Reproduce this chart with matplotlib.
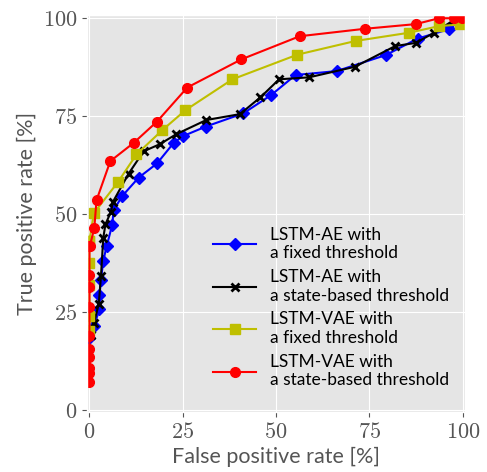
import numpy as np
import matplotlib
matplotlib.use('Agg')
import matplotlib.pyplot as plt

plt.style.use('ggplot')
plt.rcParams['mathtext.fontset'] = 'cm'
plt.rcParams['font.family'] = ['Lato', 'DejaVu Sans']

# Curvas ROC (FPR, TPR em %)
ae_fixo_fpr = [0, 1.2, 2.7, 2.7, 3.1, 3.7, 4.6, 6.1, 6.5, 8.8, 13.2, 18.1, 22.6, 25.1,
               31.1, 41.2, 48.7, 55.2, 66.2, 79.4, 87.9, 96.3, 100]
ae_fixo_tpr = [18.3, 21.3, 25.7, 29.2, 33.2, 38.0, 41.7, 47.2, 51.0, 54.6, 59.3, 62.9, 68.2, 69.9,
               72.3, 75.7, 80.4, 85.5, 86.5, 90.6, 94.8, 97.2, 100]

ae_estado_fpr = [0.3, 1.2, 2.5, 3.1, 3.7, 4.3, 5.8, 6.3, 10.5, 14.5, 18.8, 23.3, 31.3, 40.3,
                 45.8, 50.8, 58.8, 71.1, 81.9, 87.4, 92.3, 97.7, 100]
ae_estado_tpr = [19.0, 22.1, 27.0, 34.2, 43.8, 47.4, 50.6, 53.1, 60.3, 66.0, 67.8, 70.4, 74.0, 75.5,
                 79.8, 84.4, 84.9, 87.6, 92.9, 93.7, 96.3, 99.6, 100]

vae_fixo_fpr = [0, 0, 0, 0, 0, 0, 1.2, 7.6, 12.6, 19.5, 25.7, 38.3, 55.7, 71.3, 85.6, 93.7, 99.3, 100]
vae_fixo_tpr = [20.0, 24.0, 31.9, 37.4, 43.2, 43.2, 50.2, 58.1, 65.2, 71.4, 76.5, 84.4, 90.7, 94.2,
                96.3, 98.0, 98.4, 100]

vae_estado_fpr = [0, 0, 0, 0, 0, 0, 0, 0, 0, 0, 0.1, 1.3, 1.9, 5.6, 11.9, 18.1, 26.2, 40.7,
                  56.3, 73.7, 87.4, 93.6, 97.5, 99.7]
vae_estado_tpr = [7.1, 9.4, 10.6, 13.4, 15.5, 18.9, 26.2, 31.3, 34.4, 41.7, 41.8, 46.3, 53.5, 63.5,
                  68.2, 73.6, 82.3, 89.5, 95.4, 97.3, 98.5, 100, 100, 100]

fig = plt.figure(figsize=(4.87, 4.72), dpi=100)
ax = fig.add_axes([0.179, 0.127, 0.776, 0.841])

ax.plot(ae_fixo_fpr, ae_fixo_tpr, color='blue', marker='D', markersize=6.5, lw=1.5,
        label='LSTM-AE with\na fixed threshold')
ax.plot(ae_estado_fpr, ae_estado_tpr, color='black', marker='x', markersize=6, mew=2, lw=1.5,
        label='LSTM-AE with\na state-based threshold')
ax.plot(vae_fixo_fpr, vae_fixo_tpr, color='y', marker='s', markersize=7, lw=1.5,
        label='LSTM-VAE with\na fixed threshold')
ax.plot(vae_estado_fpr, vae_estado_tpr, color='red', marker='o', markersize=7, lw=1.5,
        label='LSTM-VAE with\na state-based threshold')

ax.set_xlim(-0.6, 100.6)
ax.set_ylim(-0.6, 100.8)
ticks = [0, 25, 50, 75, 100]
ax.set_xticks(ticks)
ax.set_yticks(ticks)
ax.set_xticklabels([f'${t}$' for t in ticks], fontsize=16)
ax.set_yticklabels([f'${t}$' for t in ticks], fontsize=16)
ax.tick_params(colors='#555555', labelcolor='#555555')

ax.set_xlabel('False positive rate [%]', fontsize=15.5, color='#555555')
ax.set_ylabel('True positive rate [%]', fontsize=15.5, color='#555555')

ax.legend(loc='lower right', bbox_to_anchor=(1.0, 0.02), frameon=False, fontsize=12.5,
          labelspacing=0.45, handlelength=2.5)

fig.savefig('out.png', dpi=100)
